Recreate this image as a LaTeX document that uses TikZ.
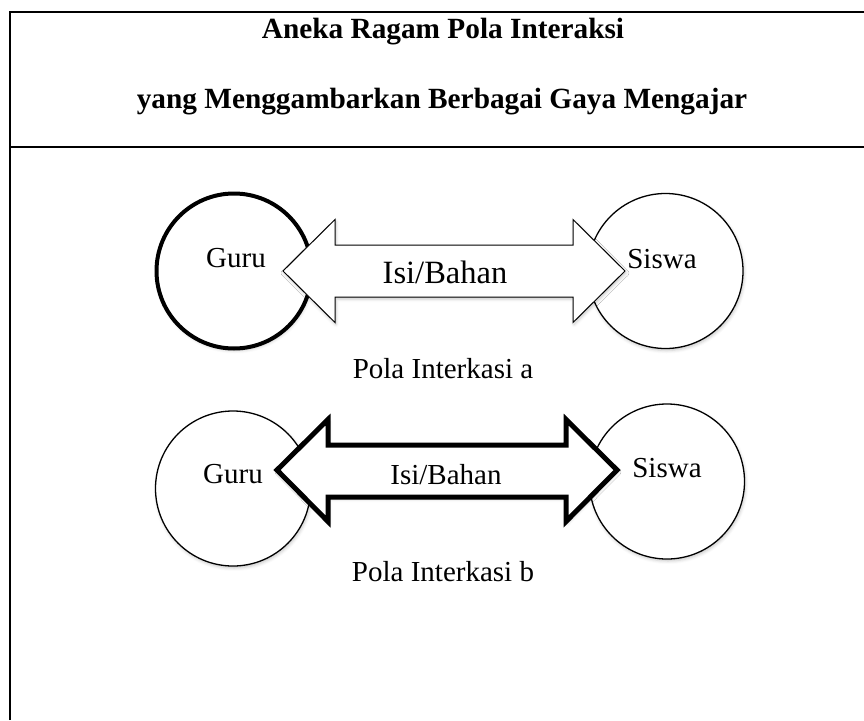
\documentclass[tikz,border=0pt]{standalone}
\usepackage{fontspec}
\setmainfont{Liberation Serif}
\usetikzlibrary{shadows.blur}
\begin{document}
\begin{tikzpicture}[x=1pt,y=-1pt,
  frameline/.style={line width=2.3pt},
  softshadow/.style={blur shadow={shadow xshift=1pt,shadow yshift=-2pt,shadow blur radius=3pt,shadow opacity=22}},
  ring/.style={circle,draw,fill=white,inner sep=0pt,minimum size=#1,softshadow},
  bigarrow/.style={draw,fill=white,line join=miter,softshadow},
  lbl/.style={anchor=base,inner sep=0pt,font=\fontsize{29}{35}\selectfont},
  ttl/.style={anchor=base,inner sep=0pt,font=\fontsize{29.3}{35}\selectfont\bfseries}]
\useasboundingbox (0,0) rectangle (864,720);
% frame
\draw[frameline] (10,720) -- (10,12) -- (864,12);
\draw[frameline] (10,147) -- (864,147);
\node[ttl] (t1) at (443,38) {Aneka Ragam Pola Interaksi};
\node[ttl] (t2) at (442,108) {yang Menggambarkan Berbagai Gaya Mengajar};
% pattern a
\node[ring=155pt,line width=4pt] (guruA) at (234,271) {};
\node[ring=155pt,line width=1.3pt] (siswaA) at (665.5,271) {};
\draw[bigarrow,line width=1pt] (283,271) -- (335,219.5) -- (335,245) -- (573,245) -- (573,219.5)
  -- (625,271) -- (573,322.5) -- (573,297) -- (335,297) -- (335,322.5) -- cycle;
\node[lbl] (tguruA) at (236,267) {Guru};
\node[lbl] (tsiswaA) at (662,268) {Siswa};
\node[lbl,font=\fontsize{32.5}{38}\selectfont] (isiA) at (445,283) {Isi/Bahan};
\node[lbl] (polaA) at (443,378) {Pola Interkasi a};
% pattern b
\node[ring=155pt,line width=1.3pt] (guruB) at (233,488.5) {};
\node[ring=155pt,line width=1.3pt] (siswaB) at (667,481.5) {};
\draw[bigarrow,line width=5pt] (277,470) -- (328,419.5) -- (328,445) -- (566,445) -- (566,419.5)
  -- (617,470) -- (566,521.5) -- (566,497) -- (328,497) -- (328,521.5) -- cycle;
\node[lbl] (tguruB) at (233,483) {Guru};
\node[lbl] (tsiswaB) at (667,477) {Siswa};
\node[lbl] (isiB) at (446,484) {Isi/Bahan};
\node[lbl] (polaB) at (443,581) {Pola Interkasi b};
\end{tikzpicture}
\end{document}
